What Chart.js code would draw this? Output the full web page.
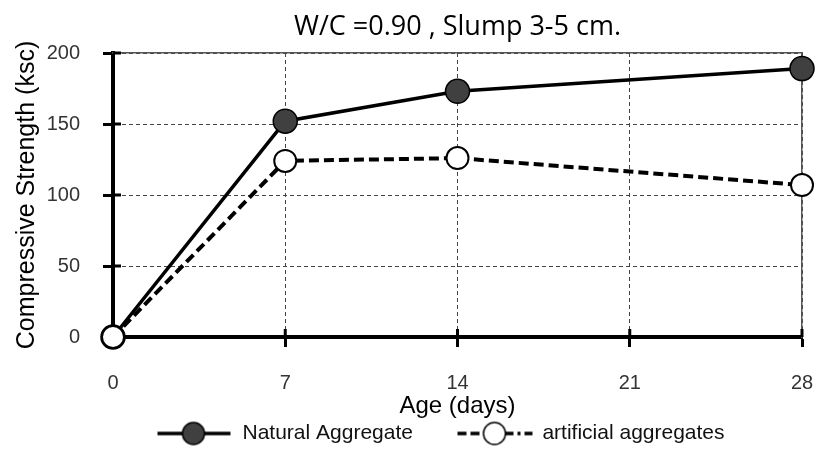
<!DOCTYPE html>
<html>
<head>
<meta charset="utf-8">
<script src="https://cdn.jsdelivr.net/npm/chart.js@4.4.0/dist/chart.umd.min.js"></script>
<style>
  html, body { margin: 0; padding: 0; background: #fff; }
  #wrap { width: 815px; height: 449px; }
</style>
</head>
<body>
<div id="wrap"><canvas id="c"></canvas></div>
<script>
// values
const ages = [0, 7, 14, 28];
const naturalStrength = [0, 152, 173, 189];
const artificialStrength = [0, 124, 126, 107];
const xTicks = [0, 7, 14, 21, 28];
const yTicks = [0, 50, 100, 150, 200];
const seriesNames = ['Natural Aggregate', 'artificial aggregates'];

const sans = '"Liberation Sans", Arial, sans-serif';
const tickFont = { family: sans, size: 20 };
const titleFont = { family: sans, size: 24 };

// legend icon: line + marker, drawn at the right end of the image
const ICON_MARGIN = 36;
function legendIcon(fill, dashed) {
  const c = document.createElement('canvas');
  c.width = ICON_MARGIN + 78;
  c.height = 28;
  const g = c.getContext('2d');
  g.translate(ICON_MARGIN, 0);
  g.strokeStyle = '#000';
  g.lineWidth = 3.5;
  if (dashed) {
    g.setLineDash([9, 4]);
    g.beginPath(); g.moveTo(1, 14); g.lineTo(28, 14); g.stroke();
    g.setLineDash([9, 4, 3, 4]);
    g.beginPath(); g.moveTo(48, 14); g.lineTo(76, 14); g.stroke();
    g.setLineDash([]);
  } else {
    g.beginPath(); g.moveTo(1, 14); g.lineTo(74, 14); g.stroke();
  }
  g.beginPath();
  g.arc(dashed ? 38 : 37, 14, 11, 0, Math.PI * 2);
  g.fillStyle = fill;
  g.fill();
  g.lineWidth = 1.5;
  g.stroke();
  return c;
}
const icons = [legendIcon('#404040', false), legendIcon('#fff', true)];

// tick marks that cross the axes
const crossTicks = {
  id: 'crossTicks',
  beforeDatasetsDraw(chart) {
    const { ctx, chartArea, scales } = chart;
    ctx.save();
    ctx.strokeStyle = '#000';
    ctx.lineWidth = 3;
    scales.x.ticks.forEach(t => {
      const px = scales.x.getPixelForValue(t.value);
      ctx.beginPath(); ctx.moveTo(px, chartArea.bottom); ctx.lineTo(px, chartArea.bottom - 8); ctx.stroke();
    });
    scales.y.ticks.forEach(t => {
      const py = scales.y.getPixelForValue(t.value);
      ctx.beginPath(); ctx.moveTo(chartArea.left, py); ctx.lineTo(chartArea.left + 8, py); ctx.stroke();
    });
    ctx.restore();
  }
};

function noPad(s) {
  s.paddingLeft = 0; s.paddingRight = 0; s.paddingTop = 0; s.paddingBottom = 0;
}

new Chart(document.getElementById('c'), {
  type: 'line',
  data: {
    datasets: [
      {
        label: seriesNames[0],
        data: ages.map((a, i) => ({ x: a, y: naturalStrength[i] })),
        borderColor: '#000',
        borderWidth: 3.5,
        pointRadius: 12,
        pointBackgroundColor: '#404040',
        pointBorderColor: '#000',
        pointBorderWidth: 1.5,
        clip: false,
        order: 1
      },
      {
        label: seriesNames[1],
        data: ages.map((a, i) => ({ x: a, y: artificialStrength[i] })),
        borderColor: '#000',
        borderWidth: 4,
        borderDash: [10, 5],
        pointRadius: 11,
        pointBackgroundColor: '#fff',
        pointBorderColor: '#000',
        pointBorderWidth: 2,
        clip: false,
        order: 0
      }
    ]
  },
  options: {
    responsive: true,
    maintainAspectRatio: false,
    animation: false,
    layout: { padding: { left: 0, right: 13, top: 0, bottom: 0 }, autoPadding: false },
    plugins: {
      tooltip: { enabled: false },
      title: {
        display: true,
        text: 'W/C =0.90 , Slump 3-5 cm.',
        fullSize: false,
        color: '#000',
        font: { family: '"Open Sans", "Liberation Sans", sans-serif', size: 27, weight: 'normal' },
        padding: { top: 11, bottom: 9.6 }
      },
      legend: {
        position: 'bottom',
        align: 'start',
        fullSize: false,
        maxHeight: 36,
        labels: {
          usePointStyle: true,
          pointStyleWidth: ICON_MARGIN + 73,
          padding: 10,
          color: '#111',
          font: { family: sans, size: 21 },
          sort: (a, b) => a.datasetIndex - b.datasetIndex,
          generateLabels(chart) {
            const items = Chart.defaults.plugins.legend.labels.generateLabels(chart);
            items.forEach(it => { it.pointStyle = icons[it.datasetIndex]; });
            return items;
          }
        }
      }
    },
    scales: {
      x: {
        type: 'linear',
        min: 0,
        max: 28,
        afterFit: s => { s.height = 76; noPad(s); },
        afterBuildTicks: s => { s.ticks = xTicks.map(v => ({ value: v })); },
        ticks: { font: tickFont, color: '#333', padding: 24 },
        grid: { color: '#444', lineWidth: 1, tickLength: 10, tickWidth: 3, tickColor: '#000' },
        border: { display: true, color: '#000', width: 4, dash: [4, 3] },
        title: { display: true, text: 'Age (days)', color: '#000', font: titleFont, padding: { top: 0, bottom: -8 } }
      },
      y: {
        min: 0,
        max: 200,
        afterFit: s => { s.width = 113; noPad(s); },
        afterBuildTicks: s => { s.ticks = yTicks.map(v => ({ value: v })); },
        ticks: { font: tickFont, color: '#333', padding: 23 },
        grid: { color: '#444', lineWidth: 1, tickLength: 10, tickWidth: 3, tickColor: '#000' },
        border: { display: true, color: '#000', width: 4, dash: [4, 3] },
        title: { display: true, text: 'Compressive Strength (ksc)', color: '#000', font: { family: sans, size: 25 }, padding: { top: 12, bottom: 0 } }
      },
      xTop: {
        type: 'linear',
        position: 'top',
        min: 0,
        max: 28,
        afterFit: s => { s.height = 0; noPad(s); },
        ticks: { display: false },
        grid: { display: false, drawTicks: false },
        border: { display: true, color: '#555', width: 1.5 }
      },
      yRight: {
        type: 'linear',
        position: 'right',
        min: 0,
        max: 200,
        afterFit: s => { s.width = 0; noPad(s); },
        ticks: { display: false },
        grid: { display: false, drawTicks: false },
        border: { display: true, color: '#555', width: 1.5 }
      }
    }
  },
  plugins: [crossTicks]
});
</script>
</body>
</html>
